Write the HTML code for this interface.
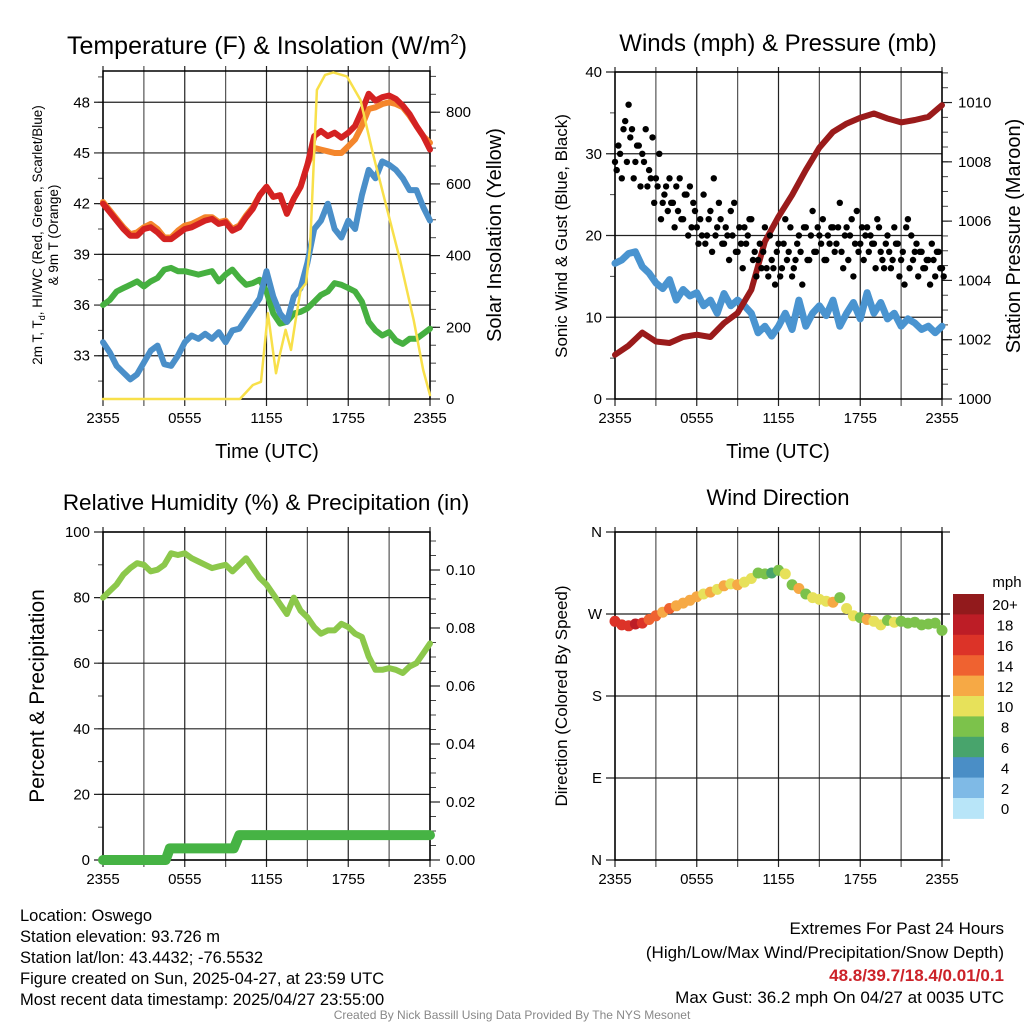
<!DOCTYPE html>
<html><head><meta charset="utf-8"><style>
html,body{margin:0;padding:0;background:#fff;}
svg{display:block;font-family:"Liberation Sans",Arial,sans-serif;}
</style></head><body>
<svg id="fig" width="1024" height="1024" viewBox="0 0 1024 1024" xmlns="http://www.w3.org/2000/svg">
<rect width="1024" height="1024" fill="#fff"/>
<g id="layer"></g>
<text x="267" y="54" font-size="25" text-anchor="middle">Temperature (F) &amp; Insolation (W/m<tspan font-size="15" dy="-10">2</tspan><tspan dy="10">)</tspan></text>
<text x="778" y="51" font-size="24" text-anchor="middle">Winds (mph) &amp; Pressure (mb)</text>
<text x="266" y="510" font-size="22.5" text-anchor="middle">Relative Humidity (%) &amp; Precipitation (in)</text>
<text x="778" y="505" font-size="22" text-anchor="middle">Wind Direction</text>
<text x="267" y="458" font-size="20" text-anchor="middle">Time (UTC)</text>
<text x="778" y="458" font-size="20" text-anchor="middle">Time (UTC)</text>
<text transform="translate(42,235) rotate(-90)" font-size="13.5" text-anchor="middle">2m T, T<tspan font-size="9" dy="3">d</tspan><tspan dy="-3">, HI/WC (Red, Green, Scarlet/Blue)</tspan></text>
<text transform="translate(58,235) rotate(-90)" font-size="13.5" text-anchor="middle">&amp; 9m T (Orange)</text>
<text transform="translate(501,235) rotate(-90)" font-size="20" text-anchor="middle">Solar Insolation (Yellow)</text>
<text transform="translate(567,236) rotate(-90)" font-size="17" text-anchor="middle">Sonic Wind &amp; Gust (Blue, Black)</text>
<text transform="translate(1020,236) rotate(-90)" font-size="20" text-anchor="middle">Station Pressure (Maroon)</text>
<text transform="translate(44,696) rotate(-90)" font-size="21" text-anchor="middle">Percent &amp; Precipitation</text>
<text transform="translate(567,696) rotate(-90)" font-size="17" text-anchor="middle">Direction (Colored By Speed)</text>
<g font-size="16.5">
<text x="20" y="921">Location: Oswego</text>
<text x="20" y="942">Station elevation: 93.726 m</text>
<text x="20" y="963">Station lat/lon: 43.4432; -76.5532</text>
<text x="20" y="984">Figure created on Sun, 2025-04-27, at 23:59 UTC</text>
<text x="20" y="1005">Most recent data timestamp: 2025/04/27 23:55:00</text>
</g>
<g font-size="17" text-anchor="end">
<text x="1004" y="934">Extremes For Past 24 Hours</text>
<text x="1004" y="958">(High/Low/Max Wind/Precipitation/Snow Depth)</text>
<text x="1004" y="981" fill="#cc2229" font-weight="bold">48.8/39.7/18.4/0.01/0.1</text>
<text x="1004" y="1003">Max Gust: 36.2 mph On 04/27 at 0035 UTC</text>
</g>
<text x="512" y="1019" font-size="12" fill="#888" text-anchor="middle">Created By Nick Bassill Using Data Provided By The NYS Mesonet</text>
</svg>
<script>
// ---- data ----
const timeTickLabels = ["2355","0555","1155","1755","2355"];
const timeTickHours = [0,6,12,18,24];
const halfHours = [];
for (let i = 0; i <= 48; i++) halfHours.push(i * 0.5);
const tempRed = [42,41.5,41,40.5,40.1,40.1,40.5,40.6,40.3,39.9,39.9,40.2,40.5,40.6,40.8,41.0,41.1,40.8,40.9,40.4,40.6,41.2,41.7,42.5,43.0,42.4,42.5,41.4,42.3,43.0,44.3,46.0,46.3,46.0,46.2,45.9,46.2,46.6,47.5,48.5,48.1,48.3,48.4,48.2,47.8,47.3,46.6,46.0,45.2];
const tempOrange = [42.1,41.6,41.1,40.6,40.2,40.3,40.6,40.8,40.5,40.0,40.0,40.4,40.7,40.8,41.0,41.2,41.2,40.9,41.0,40.5,40.7,41.3,41.8,42.5,43.0,42.4,42.5,41.4,42.3,43.0,44.3,45.3,45.2,45.1,45.0,45.0,45.4,45.8,46.6,47.6,47.7,47.9,48.0,47.9,47.7,47.2,46.6,46.0,45.6];
const tempGreen = [36.0,36.3,36.8,37.0,37.2,37.4,37.1,37.4,37.6,38.1,38.2,38.0,38.0,37.9,37.8,37.9,38.0,37.4,37.8,38.1,37.6,37.2,37.3,37.5,36.8,35.5,34.9,35.0,35.5,35.6,35.8,36.2,36.6,36.8,37.3,37.2,37.0,36.8,36.2,35.0,34.5,34.2,34.4,33.9,33.7,34.0,34.0,34.3,34.6];
const tempBlue = [33.8,33.2,32.4,32.0,31.6,31.9,32.6,33.3,33.6,32.5,32.4,33.0,33.8,34.2,34.0,34.3,34.0,34.4,33.8,34.5,34.6,35.2,35.8,36.4,38.0,36.5,35.5,35.0,36.5,37.0,38.5,40.5,41.0,42.0,40.5,40.0,41.0,40.5,42.5,44.0,43.5,44.5,44.3,44.0,43.5,42.8,42.8,41.8,41.0];
const solarHours = [0,10.05,11.0,11.6,12.1,12.7,13.0,13.4,13.8,14.1,14.5,14.9,15.2,15.7,16.3,16.9,17.9,18.9,19.8,20.8,21.8,22.8,23.5,24];
const solarValues = [0,0,39,48,239,72,127,193,137,211,304,323,425,862,904,911,900,834,686,537,388,220,81,11];
const windSustained = [16.6,17.0,17.8,18.0,16.2,15.4,14.2,13.5,14.6,12.1,13.4,12.6,13.0,11.4,12.1,10.5,12.9,11.4,12.1,11.4,10.5,8.1,8.9,7.7,8.9,10.5,8.5,12.1,8.9,10.5,11.4,10.2,12.1,8.9,10.5,11.8,9.8,13.0,10.5,11.8,9.8,10.5,8.9,9.8,9.3,8.5,8.9,8.1,8.9];
const windGust = [29,31,27,34,36,33,29,31,30, 33,28,32,27,30,24,26,27, 24,26,27,22,25,26,24,21, 22,25,20,23,27,21,22,19, 20,23,24,18,19,21,20,22, 18,17,16,21,15,17,14,19, 16,22,18,15,17,20,14,21, 17,23,18,20,22,17,19,21, 19,24,16,21,20,15,23,19, 17,21,20,19,22,18,16,20, 16,21,19,17,14,22,20,18, 15,18,16,17,19,15,18,16];
const windGust2 = [28,30,33,29,32,27,31,26,29, 26,27,24,26,22,25,23,24, 21,23,22,25,20,21,23,19, 20,19,22,18,20,24,19,21, 17,20,18,21,16,19,22,17, 15,19,18,16,20,16,18,15, 19,17,21,16,19,18,21,17, 20,18,21,19,17,20,21,18, 21,18,20,17,22,19,18,21, 20,18,19,16,21,17,19,18, 17,19,15,18,21,16,17,19, 18,16,17,14,17,18,16,15];
const pressureHours = [0,1,2,3,4,5,6,7,8,9,10,11,12,13,14,15,16,17,18,19,20,21,22,23,24];
const pressureValues = [1001.49,1001.80,1002.24,1001.94,1001.89,1002.09,1002.17,1002.09,1002.56,1002.90,1003.68,1005.31,1006.15,1006.88,1007.72,1008.48,1009.01,1009.29,1009.49,1009.63,1009.46,1009.33,1009.41,1009.52,1009.91];
const rhValues = [80,82,84,87,89,90.5,90,88,88.5,90,93.5,93,93.5,92,91,90,89,89.5,90,88,90,92,89,86,84,81,78,75,80,76,74,71,69,70,70,72,71,69,68,62,58,58,58.5,58,57,59,60,63,66];
const precipHours = [0,4.6,4.9,9.6,10,24];
const precipValues = [0,0,0.004,0.004,0.0086,0.0086];
const windDir = [262,258,257,259,260,264,268,272,276,279,282,285,289,292,294,297,301,303,302,305,309,315,314,315,318,314,302,298,292,288,286,284,283,288,276,268,266,264,262,258,263,261,262,260,261,258,259,260,252];
const speedBins = ["0","2","4","6","8","10","12","14","16","18","20+"];
const speedColors = ["#b8e5f8","#7fbae6","#4a8ec6","#48a46c","#7cc24b","#e7e15a","#f6a945","#ef6230","#dc3328","#bd1d26","#921a1c"];

// ---- helpers ----
const NS = "http://www.w3.org/2000/svg";
const layer = document.getElementById("layer");
function mk(tag, attrs, parent) {
  const el = document.createElementNS(NS, tag);
  for (const k in attrs) el.setAttribute(k, attrs[k]);
  (parent || layer).appendChild(el);
  return el;
}
function lin(d0, d1, r0, r1) { return v => r0 + (v - d0) * (r1 - r0) / (d1 - d0); }

function drawFrame(p, name) {
  const g = mk("g", {});
  
  
  const xs = lin(0, 24, p.x0, p.x1);
  for (let h = 0; h <= 24; h += 3) {
    const x = xs(h);
    mk("line", {x1:x, x2:x, y1:p.y0-5, y2:p.y1+7, stroke:(h%6===0)?"#222":"#555", "stroke-width":1.2}, g);
  }
  timeTickHours.forEach((h, i) => {
    const t = mk("text", {x:xs(h), y:p.y1+24, "font-size":15, "text-anchor":"middle"}, g);
    
    
    t.textContent = timeTickLabels[i];
  });
  const ly = lin(p.lmin, p.lmax, p.y1, p.y0);
  for (let v = p.lminor0; v <= p.lmax + 1e-9; v += p.lminor) {
    const y = ly(v);
    if (y < p.y0 - 0.5 || y > p.y1 + 0.5) continue;
    mk("line", {x1:p.x0-5, x2:p.x0, y1:y, y2:y, stroke:"#444", "stroke-width":1}, g);
  }
  p.lticks.forEach((v, i) => {
    const y = ly(v);
    mk("line", {x1:p.x0-9, x2:p.x1 + (p.extRight||0), y1:y, y2:y, stroke:"#222", "stroke-width":1.2}, g);
    const t = mk("text", {x:p.x0-13, y:y+5, "font-size":15, "text-anchor":"end"}, g);
    
    
    t.textContent = p.llabels[i];
  });
  if (p.rticks) {
    const ry = lin(p.rmin, p.rmax, p.y1, p.y0);
    for (let v = p.rmin; v <= p.rmax + 1e-9; v += p.rminor) {
      const y = ry(v);
      if (y < p.y0 - 0.5) continue;
      mk("line", {x1:p.x1, x2:p.x1+6, y1:y, y2:y, stroke:"#444", "stroke-width":1}, g);
    }
    p.rticks.forEach((v, i) => {
      const y = ry(v);
      mk("line", {x1:p.x1, x2:p.x1+10, y1:y, y2:y, stroke:"#222", "stroke-width":1.2}, g);
      const t = mk("text", {x:p.x1+16, y:y+5, "font-size":15}, g);
      
      
      t.textContent = p.rlabels[i];
    });
  }
  mk("rect", {x:p.x0, y:p.y0, width:p.x1-p.x0, height:p.y1-p.y0, fill:"none", stroke:"#000", "stroke-width":1.5}, g);
  return {xs, ly, ry: p.rticks ? lin(p.rmin, p.rmax, p.y1, p.y0) : null};
}
function drawLine(hours, vals, xs, ys, color, w, name) {
  const pts = hours.map((h, i) => xs(h).toFixed(1) + "," + ys(vals[i]).toFixed(1)).join(" ");
  const el = mk("polyline", {points:pts, fill:"none", stroke:color, "stroke-width":w, "stroke-linejoin":"round", "stroke-linecap":"round"});
  
  
  return el;
}

// ---- Panel 1: Temperature ----
const P1 = {x0:103, x1:430, y0:71, y1:399, lmin:30.44, lmax:49.85, lminor0:31.5, lminor:1.5,
  lticks:[33,36,39,42,45,48], llabels:["33","36","39","42","45","48"],
  rmin:0, rmax:915, rminor:50, rticks:[0,200,400,600,800], rlabels:["0","200","400","600","800"]};
const a1 = drawFrame(P1, "temperature");
drawLine(halfHours, tempGreen, a1.xs, a1.ly, "#46b040", 6, "hi-wc-line");
drawLine(halfHours, tempBlue, a1.xs, a1.ly, "#4a8fc9", 6, "dewpoint-line");
drawLine(halfHours, tempOrange, a1.xs, a1.ly, "#f4862c", 6, "temp-9m-line");
drawLine(halfHours, tempRed, a1.xs, a1.ly, "#d42222", 6, "temp-2m-line");
drawLine(solarHours, solarValues, a1.xs, a1.ry, "#f8e04a", 2.5, "solar-insolation-line");

// ---- Panel 2: Winds ----
const P2 = {x0:615, x1:942, y0:72, y1:399, lmin:0, lmax:40, lminor0:5, lminor:5,
  lticks:[0,10,20,30,40], llabels:["0","10","20","30","40"],
  rmin:1000, rmax:1011.03, rminor:0.5, rticks:[1000,1002,1004,1006,1008,1010], rlabels:["1000","1002","1004","1006","1008","1010"]};
const a2 = drawFrame(P2, "winds");
drawLine(halfHours, windSustained, a2.xs, a2.ly, "#4a94d0", 7, "sustained-wind-line");
drawLine(pressureHours, pressureValues, a2.xs, a2.ry, "#9a1b1b", 6, "pressure-line");
windGust.forEach((v, i) => {
  const c = mk("circle", {cx:a2.xs(i*0.25).toFixed(1), cy:a2.ly(v).toFixed(1), r:3.2, fill:"#000"});
  
  
});
windGust2.forEach((v, i) => {
  const c = mk("circle", {cx:a2.xs(i*0.25 + 0.125).toFixed(1), cy:a2.ly(v).toFixed(1), r:3.2, fill:"#000"});
  
  
});

// ---- Panel 3: Humidity ----
const P3 = {x0:103, x1:430, y0:532, y1:860, lmin:0, lmax:100, lminor0:10, lminor:10,
  lticks:[0,20,40,60,80,100], llabels:["0","20","40","60","80","100"],
  rmin:0, rmax:0.1131, rminor:0.005, rticks:[0,0.02,0.04,0.06,0.08,0.10], rlabels:["0.00","0.02","0.04","0.06","0.08","0.10"]};
const a3 = drawFrame(P3, "humidity");
drawLine(halfHours, rhValues, a3.xs, a3.ly, "#8cc84b", 6, "relative-humidity-line");
drawLine(precipHours, precipValues, a3.xs, a3.ry, "#46b344", 10, "precipitation-line");

// ---- Panel 4: Wind direction ----
const P4 = {x0:615, x1:942, y0:532, y1:860, lmin:0, lmax:360, lminor0:1000, lminor:90, extRight:8,
  lticks:[0,90,180,270,360], llabels:["N","E","S","W","N"]};
const a4 = drawFrame(P4, "wind-direction");
function speedColor(s) { return speedColors[Math.max(0, Math.min(10, Math.floor(s / 2)))]; }
windDir.forEach((d, i) => {
  const c = mk("circle", {cx:a4.xs(halfHours[i]).toFixed(1), cy:a4.ly(d).toFixed(1), r:5.5, fill:speedColor(windSustained[i])});
  
  
});
const cb = mk("g", {});


const cbTop = 594, cbH = 20.4;
for (let k = 0; k < speedBins.length; k++) {
  const idx = speedBins.length - 1 - k;
  mk("rect", {x:953, y:(cbTop + k*cbH).toFixed(1), width:31, height:cbH+0.5, fill:speedColors[idx]}, cb);
  const t = mk("text", {x:1005, y:(cbTop + k*cbH + cbH/2 + 6).toFixed(1), "font-size":15, "text-anchor":"middle"}, cb);
  
  
  t.textContent = speedBins[idx];
}
const mt = mk("text", {x:1007, y:587, "font-size":15, "text-anchor":"middle"}, cb);


mt.textContent = "mph";
</script>
</body></html>
